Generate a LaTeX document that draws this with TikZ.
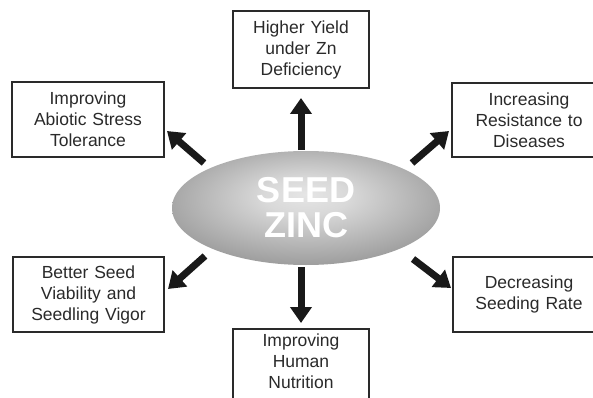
\documentclass[tikz,border=0pt]{standalone}
\usepackage{fontspec}
\setmainfont{Liberation Sans}
\usetikzlibrary{arrows.meta,shapes.geometric}
\definecolor{ink}{HTML}{2A2A2A}
\pgfdeclareradialshading{seedshade}{\pgfpoint{0bp}{6bp}}{%
  color(0bp)=(black!10); color(8bp)=(black!15); color(28bp)=(black!38);
  color(46bp)=(black!62); color(60bp)=(black!64)}
\begin{document}
\begin{tikzpicture}[x=1pt,y=-1pt,
  effect/.style={draw=ink, line width=1.5pt, fill=white, inner sep=0pt,
    align=center, text=ink, font=\fontsize{17.5}{21}\selectfont},
  bigarrow/.style={line width=7pt, draw=black!90,
    -{Triangle[width=21pt,length=16pt]}}]
\useasboundingbox (0,0) rectangle (593,398);
\clip (0,0) rectangle (593,398);

% central ellipse
\node[ellipse, minimum width=268pt, minimum height=114pt, shading=seedshade,
  text=white, font=\bfseries\fontsize{36}{36}\selectfont, align=center,
  inner sep=0pt] (seed) at (306,208) {SEED\\[-1pt]ZINC};

% effect boxes
\node[effect, text width=136pt, minimum height=77pt] (yield) at (301,49.5)
  {Higher Yield\\under Zn\\Deficiency};
\node[effect, text width=152pt, minimum height=75pt] (abiotic) at (88,119.5)
  {Improving\\Abiotic Stress\\Tolerance};
\node[effect, text width=154pt, minimum height=74pt] (disease) at (529,120)
  {Increasing\\Resistance to\\Diseases};
\node[effect, text width=151pt, minimum height=75pt] (vigor) at (88.5,294.5)
  {Better Seed\\Viability and\\Seedling Vigor};
\node[effect, text width=152pt, minimum height=75pt] (rate) at (529,294.5)
  {Decreasing\\Seeding Rate};
\node[effect, text width=136pt, minimum height=90pt, anchor=north] (human) at (301,328)
  {Improving\\Human\\Nutrition\\[4pt]\mbox{}};

% arrow ends
\coordinate (upT) at (301,150);   \coordinate (upH) at (301,98);
\coordinate (dnT) at (301,267);   \coordinate (dnH) at (301,323);
\coordinate (ulT) at (204,163);   \coordinate (ulH) at (167,131);
\coordinate (urT) at (412,163);   \coordinate (urH) at (449,131);
\coordinate (llT) at (205,256);   \coordinate (llH) at (168,289);
\coordinate (lrT) at (413,259);   \coordinate (lrH) at (451,288);

\draw[bigarrow] (upT) -- (upH);
\draw[bigarrow] (dnT) -- (dnH);
\draw[bigarrow] (ulT) -- (ulH);
\draw[bigarrow] (urT) -- (urH);
\draw[bigarrow] (llT) -- (llH);
\draw[bigarrow] (lrT) -- (lrH);
\end{tikzpicture}
\end{document}
